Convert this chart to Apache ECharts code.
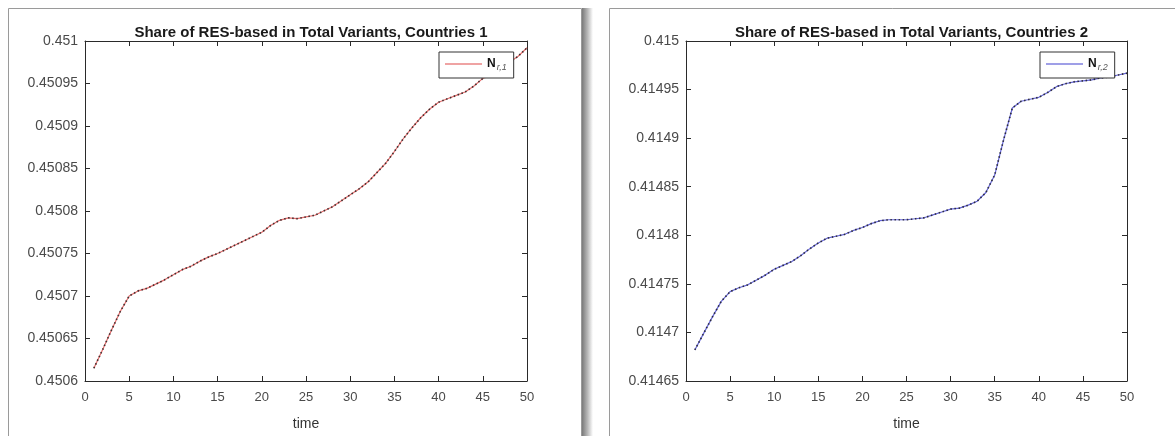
<!DOCTYPE html>
<html>
<head>
<meta charset="utf-8">
<script src="https://cdn.jsdelivr.net/npm/echarts@6/dist/echarts.min.js"></script>
<style>
  html, body { margin: 0; padding: 0; background: #fff; }
  #chart { width: 1175px; height: 436px; }
</style>
</head>
<body>
<div id="chart"></div>
<script>
// Time steps shared by both panels
const timeSteps = [1, 2, 3, 4, 5, 6, 7, 8, 9, 10, 11, 12, 13, 14, 15, 16, 17, 18, 19, 20,
  21, 22, 23, 24, 25, 26, 27, 28, 29, 30, 31, 32, 33, 34, 35, 36, 37, 38, 39, 40,
  41, 42, 43, 44, 45, 46, 47, 48, 49, 50];

// Share of RES-based in total variants, country group 1
const shareCountries1 = [0.450615, 0.450637, 0.45066, 0.450682, 0.4507, 0.450706, 0.450709, 0.450714, 0.450719, 0.450725,
  0.450731, 0.450735, 0.450741, 0.450746, 0.45075, 0.450755, 0.45076, 0.450765, 0.45077, 0.450775,
  0.450783, 0.450789, 0.450792, 0.450791, 0.450793, 0.450795, 0.4508, 0.450805, 0.450812, 0.450819,
  0.450826, 0.450834, 0.450845, 0.450856, 0.45087, 0.450885, 0.450898, 0.45091, 0.45092, 0.450928,
  0.450932, 0.450936, 0.45094, 0.450947, 0.450956, 0.450961, 0.450967, 0.450975, 0.450982, 0.450992];

// Share of RES-based in total variants, country group 2
const shareCountries2 = [0.414682, 0.414699, 0.414716, 0.414732, 0.414742, 0.414746, 0.414749, 0.414754, 0.414759, 0.414765,
  0.414769, 0.414773, 0.414779, 0.414786, 0.414792, 0.414797, 0.414799, 0.414801, 0.414805, 0.414808,
  0.414812, 0.414815, 0.414816, 0.414816, 0.414816, 0.414817, 0.414818, 0.414821, 0.414824, 0.414827,
  0.414828, 0.414831, 0.414835, 0.414844, 0.414862, 0.414898, 0.414931, 0.414938, 0.41494, 0.414942,
  0.414947, 0.414953, 0.414956, 0.414958, 0.414959, 0.41496, 0.414962, 0.414963, 0.414965, 0.414967];

// Axis ranges
const yRange1 = { min: 0.4506, max: 0.451, step: 0.00005 };
const yRange2 = { min: 0.41465, max: 0.415, step: 0.00005 };
const xRange = { min: 0, max: 50, step: 5 };

const titles = ['Share of RES-based in Total Variants, Countries 1',
                'Share of RES-based in Total Variants, Countries 2'];
const seriesNames = ['N r,1', 'N r,2'];
const subscripts = ['r,1', 'r,2'];
const xName = 'time';

const FONT = '"Liberation Sans", Arial, Helvetica, sans-serif';
const axisColor = '#2a2a2a';
const tickTextColor = '#4a4a4a';
const TICK_LEN = 5;

const grids = [
  { left: 85, top: 41, width: 442, height: 350 },
  { left: 686, top: 41, width: 441, height: 350 }
];

function pair(arrX, arrY) {
  return arrX.map((x, i) => [x, arrY[i]]);
}

function fmtY(v) {
  return String(parseFloat(v.toFixed(6)));
}

const boxLine = { show: true, onZero: false, lineStyle: { color: axisColor, width: 1 } };
const boxTick = { show: true, inside: true, length: TICK_LEN, lineStyle: { color: axisColor } };

const xAxes = [];
const yAxes = [];
[0, 1].forEach(g => {
  // bottom axis with labels
  xAxes.push({
    type: 'value', gridIndex: g, position: 'bottom',
    min: xRange.min, max: xRange.max, interval: xRange.step,
    name: xName, nameLocation: 'middle', nameGap: 36,
    nameTextStyle: { fontFamily: FONT, fontSize: 14, color: '#333' },
    axisLine: boxLine, axisTick: boxTick,
    axisLabel: { fontFamily: FONT, fontSize: 13, color: tickTextColor, margin: 10 },
    splitLine: { show: false }
  });
  // top edge of the box
  xAxes.push({
    type: 'value', gridIndex: g, position: 'top',
    min: xRange.min, max: xRange.max, interval: xRange.step,
    axisLine: boxLine, axisTick: boxTick,
    axisLabel: { show: false },
    splitLine: { show: false }
  });
  const r = g === 0 ? yRange1 : yRange2;
  yAxes.push({
    type: 'value', gridIndex: g, position: 'left',
    min: r.min, max: r.max, interval: r.step,
    axisLine: boxLine, axisTick: boxTick,
    axisLabel: { fontFamily: FONT, fontSize: 14, color: tickTextColor, margin: 7, formatter: fmtY },
    splitLine: { show: false }
  });
  // right edge of the box
  yAxes.push({
    type: 'value', gridIndex: g, position: 'right',
    min: r.min, max: r.max, interval: r.step,
    axisLine: boxLine, axisTick: boxTick,
    axisLabel: { show: false },
    splitLine: { show: false }
  });
});

const lineColors = ['#e04848', '#4040d0'];
const dataSets = [shareCountries1, shareCountries2];

const series = [];
[0, 1].forEach(g => {
  const pts = pair(timeSteps, dataSets[g]);
  // coloured trace
  series.push({
    name: seriesNames[g], type: 'line', xAxisIndex: g * 2, yAxisIndex: g * 2,
    data: pts, symbol: 'none', silent: true,
    lineStyle: { color: lineColors[g], width: 1.2, opacity: 0.8 },
    itemStyle: { color: lineColors[g] }
  });
  // dark dotted overlay along the same trace
  series.push({
    name: seriesNames[g] + ' dots', type: 'line', xAxisIndex: g * 2, yAxisIndex: g * 2,
    data: pts, symbol: 'none', silent: true,
    lineStyle: { color: '#1a1a1a', width: 1.7, type: [1.5, 2.6], opacity: 0.8 }
  });
});

const legends = [0, 1].map(g => ({
  data: [{ name: seriesNames[g], icon: 'rect' }],
  left: g === 0 ? 439 : 1040, top: 52,
  orient: 'vertical',
  padding: [6, 7, 6, 6],
  itemWidth: 37, itemHeight: 1, itemGap: 0,
  backgroundColor: '#fff',
  borderColor: '#333', borderWidth: 1, borderRadius: 0,
  selectedMode: false,
  formatter: () => '{n|N}{s|' + subscripts[g] + '}',
  textStyle: {
    fontFamily: FONT, color: '#111',
    rich: {
      n: { fontFamily: FONT, fontSize: 12, fontWeight: 'bold', color: '#111' },
      s: { fontFamily: FONT, fontSize: 9, fontStyle: 'italic', color: '#555', padding: [7, 0, 0, 1] }
    }
  }
}));

const titleOpts = [0, 1].map(g => ({
  text: titles[g],
  left: grids[g].left + grids[g].width / 2,
  textAlign: 'center',
  top: 20,
  textStyle: { fontFamily: FONT, fontSize: 15, fontWeight: 'bold', color: '#1a1a1a' }
}));

// Window frames around each panel
const frameGraphics = [
  { type: 'rect', z: -10, shape: { x: 8.5, y: 8.5, width: 573, height: 440 },
    style: { fill: '#fff', stroke: '#9a9a9a', lineWidth: 1 } },
  { type: 'rect', z: -11, shape: { x: 582, y: 8, width: 11, height: 440 },
    style: { fill: new echarts.graphic.LinearGradient(0, 0, 1, 0, [
      { offset: 0, color: '#7a7a7a' }, { offset: 0.5, color: '#b8b8b8' }, { offset: 1, color: '#ffffff' }
    ]) } },
  { type: 'rect', z: -10, shape: { x: 609.5, y: 8.5, width: 580, height: 440 },
    style: { fill: '#fff', stroke: '#9a9a9a', lineWidth: 1 } }
];

const chart = echarts.init(document.getElementById('chart'), null, { renderer: 'canvas' });
chart.setOption({
  animation: false,
  backgroundColor: '#fff',
  title: titleOpts,
  legend: legends,
  grid: grids,
  xAxis: xAxes,
  yAxis: yAxes,
  series: series,
  graphic: frameGraphics
});
</script>
</body>
</html>
